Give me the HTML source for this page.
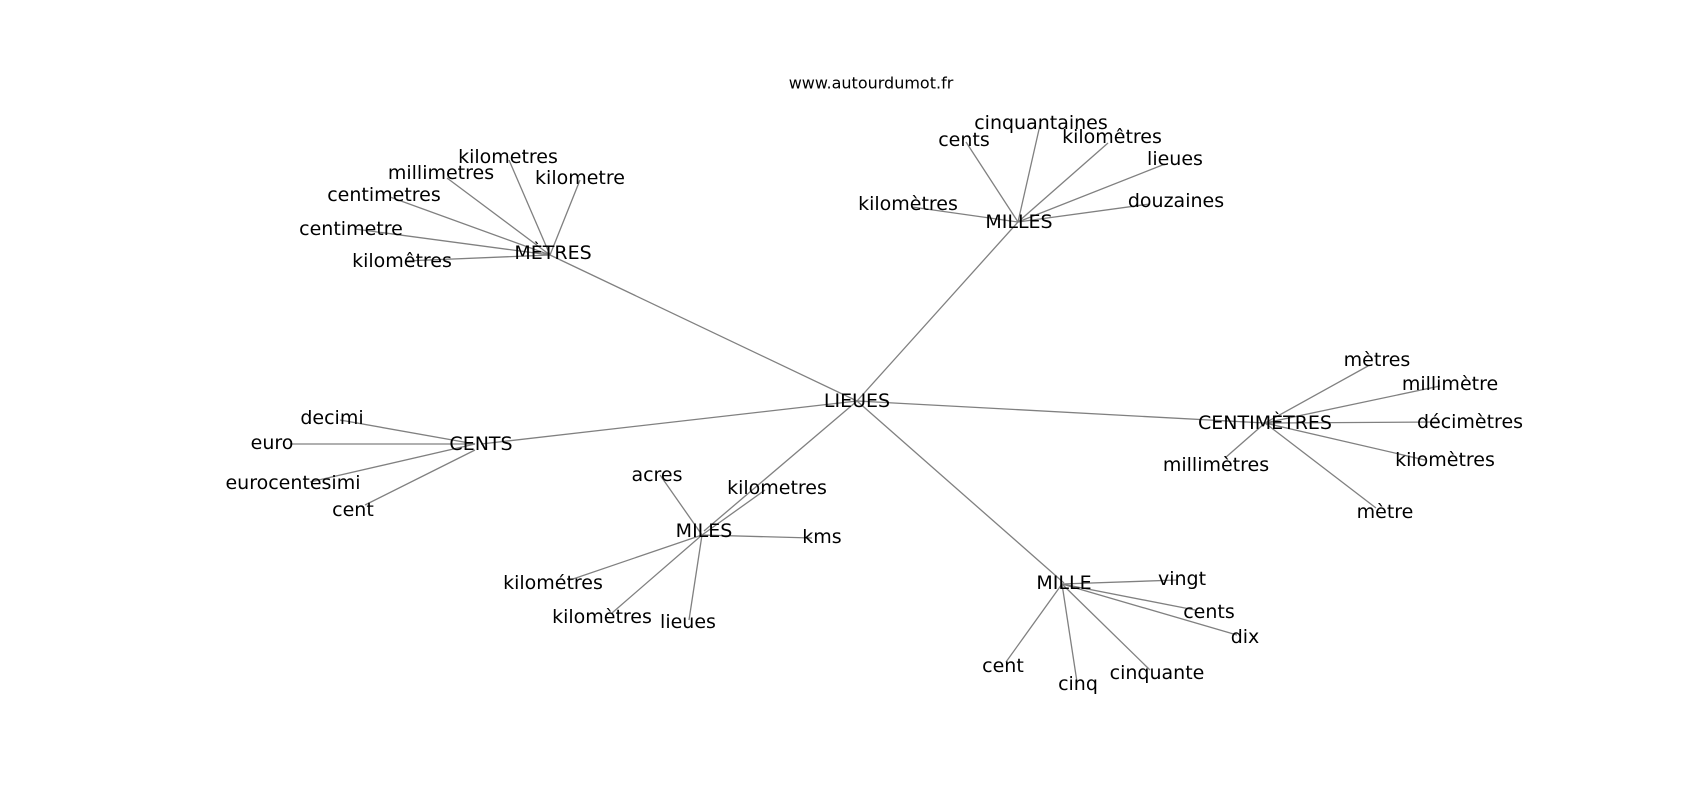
<!DOCTYPE html>
<html><head><meta charset="utf-8"><style>
html,body{margin:0;padding:0;background:#fff;}
svg{display:block;}
text{font-family:"DejaVu Sans","Liberation Sans",sans-serif;font-size:19px;fill:#000;text-anchor:middle;dominant-baseline:central;}
line{stroke:#808080;stroke-width:1.3;}
</style></head><body>
<svg width="1700" height="800" viewBox="0 0 1700 800" xmlns="http://www.w3.org/2000/svg">
<g>
<!-- hub edges -->
<line x1="857" y1="401" x2="550" y2="255"/>
<line x1="857" y1="401" x2="1018" y2="222"/>
<line x1="857" y1="401" x2="1265" y2="423"/>
<line x1="857" y1="401" x2="481" y2="444"/>
<line x1="857" y1="401" x2="704" y2="531"/>
<line x1="857" y1="401" x2="1064" y2="583"/>
<!-- METRES -->
<line x1="550" y1="255" x2="509" y2="160"/>
<line x1="550" y1="255" x2="447" y2="178"/>
<line x1="550" y1="255" x2="580" y2="180"/>
<line x1="550" y1="255" x2="390" y2="197"/>
<line x1="550" y1="255" x2="355" y2="229"/>
<line x1="550" y1="255" x2="405" y2="261"/>
<!-- MILLES -->
<line x1="1018" y1="222" x2="1040" y2="125"/>
<line x1="1018" y1="222" x2="966" y2="142"/>
<line x1="1018" y1="222" x2="1108" y2="143"/>
<line x1="1018" y1="222" x2="1165" y2="164"/>
<line x1="1018" y1="222" x2="1150" y2="204"/>
<line x1="1018" y1="222" x2="912" y2="207"/>
<!-- CENTIMETRES -->
<line x1="1265" y1="423" x2="1368" y2="366"/>
<line x1="1265" y1="423" x2="1440" y2="386"/>
<line x1="1265" y1="423" x2="1440" y2="422"/>
<line x1="1265" y1="423" x2="1425" y2="460"/>
<line x1="1265" y1="423" x2="1225" y2="458"/>
<line x1="1265" y1="423" x2="1376" y2="508"/>
<!-- CENTS -->
<line x1="475" y1="444" x2="340" y2="420"/>
<line x1="475" y1="444" x2="290" y2="444"/>
<line x1="475" y1="444" x2="310" y2="482"/>
<line x1="475" y1="450" x2="365" y2="505"/>
<!-- MILES -->
<line x1="702" y1="535" x2="660" y2="475"/>
<line x1="702" y1="535" x2="765" y2="490"/>
<line x1="702" y1="535" x2="812" y2="538"/>
<line x1="702" y1="535" x2="570" y2="580"/>
<line x1="702" y1="535" x2="612" y2="613"/>
<line x1="702" y1="535" x2="689" y2="620"/>
<!-- MILLE -->
<line x1="1062" y1="584" x2="1178" y2="580"/>
<line x1="1062" y1="584" x2="1195" y2="610"/>
<line x1="1062" y1="584" x2="1237" y2="635"/>
<line x1="1062" y1="584" x2="1006" y2="662"/>
<line x1="1062" y1="584" x2="1077" y2="682"/>
<line x1="1062" y1="584" x2="1150" y2="670"/>
</g>
<text x="871" y="83" style="font-size:16px">www.autourdumot.fr</text>

<text x="857" y="401">LIEUES</text>

<text x="553" y="253">MÈTRES</text>
<text x="508" y="157">kilometres</text>
<text x="441" y="173">millimetres</text>
<text x="580" y="178">kilometre</text>
<text x="384" y="195">centimetres</text>
<text x="351" y="229">centimetre</text>
<text x="402" y="261">kilomêtres</text>

<text x="1019" y="222">MILLES</text>
<text x="1041" y="123">cinquantaines</text>
<text x="964" y="140">cents</text>
<text x="1112" y="137">kilomêtres</text>
<text x="1175" y="159">lieues</text>
<text x="1176" y="201">douzaines</text>
<text x="908" y="204">kilomètres</text>

<text x="1265" y="423">CENTIMÈTRES</text>
<text x="1377" y="360">mètres</text>
<text x="1450" y="384">millimètre</text>
<text x="1470" y="422">décimètres</text>
<text x="1445" y="460">kilomètres</text>
<text x="1216" y="465">millimètres</text>
<text x="1385" y="512">mètre</text>

<text x="481" y="444">CENTS</text>
<text x="332" y="418">decimi</text>
<text x="272" y="443">euro</text>
<text x="293" y="483">eurocentesimi</text>
<text x="353" y="510">cent</text>

<text x="704" y="531">MILES</text>
<text x="657" y="475">acres</text>
<text x="777" y="488">kilometres</text>
<text x="822" y="537">kms</text>
<text x="553" y="583">kilométres</text>
<text x="602" y="617">kilomètres</text>
<text x="688" y="622">lieues</text>

<text x="1064" y="583">MILLE</text>
<text x="1182" y="579">vingt</text>
<text x="1209" y="612">cents</text>
<text x="1245" y="637">dix</text>
<text x="1003" y="666">cent</text>
<text x="1078" y="684">cinq</text>
<text x="1157" y="673">cinquante</text>
</svg>
</body></html>
